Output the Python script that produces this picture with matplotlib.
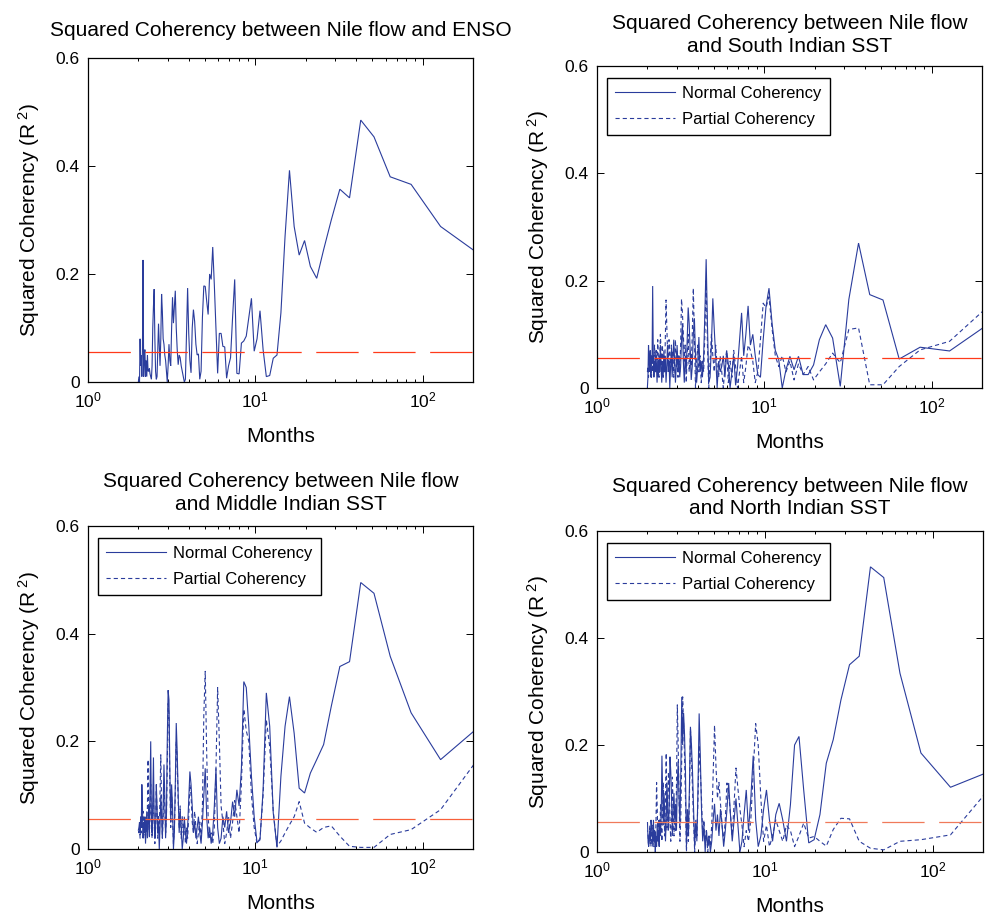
import numpy as np
import matplotlib
matplotlib.use("Agg")
import matplotlib.pyplot as plt
from matplotlib.ticker import LogLocator, NullFormatter

plt.rcParams['font.family'] = ['Liberation Sans', 'DejaVu Sans']
plt.rcParams['mathtext.fontset'] = 'custom'
plt.rcParams['mathtext.rm'] = 'Liberation Sans'
plt.rcParams['mathtext.it'] = 'Liberation Sans:italic'
plt.rcParams['lines.scale_dashes'] = False

# Frequency index k -> period 256/k months (k = 1..128)
harmonic = np.arange(1, 129)
months = 256.0 / harmonic

threshold = 0.0556

enso_normal = [
    0.221, 0.288, 0.366, 0.380, 0.454, 0.485, 0.341, 0.357, 0.300, 0.245,
    0.192, 0.214, 0.262, 0.235, 0.288, 0.392, 0.270, 0.128, 0.050, 0.044,
    0.012, 0.010, 0.060, 0.132, 0.080, 0.057, 0.155, 0.120, 0.085, 0.076,
    0.072, 0.015, 0.016, 0.190, 0.120, 0.045, 0.030, 0.007, 0.065, 0.066,
    0.090, 0.090, 0.016, 0.100, 0.180, 0.250, 0.190, 0.200, 0.125, 0.150,
    0.177, 0.178, 0.120, 0.020, 0.005, 0.052, 0.050, 0.070, 0.112, 0.134,
    0.100, 0.017, 0.040, 0.090, 0.174, 0.090, 0.005, 0.000, 0.010, 0.020,
    0.030, 0.045, 0.050, 0.032, 0.060, 0.100, 0.169, 0.140, 0.109, 0.157,
    0.100, 0.030, 0.040, 0.070, 0.030, 0.000, 0.020, 0.040, 0.050, 0.070,
    0.080, 0.130, 0.163, 0.080, 0.030, 0.070, 0.108, 0.060, 0.010, 0.005,
    0.020, 0.080, 0.172, 0.140, 0.100, 0.030, 0.005, 0.010, 0.015, 0.025,
    0.020, 0.020, 0.050, 0.010, 0.040, 0.010, 0.060, 0.050, 0.010, 0.226,
    0.060, 0.010, 0.050, 0.030, 0.080, 0.000, 0.010, 0.000]

south_normal = [
    0.134, 0.069, 0.076, 0.054, 0.164, 0.174, 0.270, 0.165, 0.003, 0.093,
    0.118, 0.090, 0.043, 0.025, 0.025, 0.059, 0.034, 0.059, 0.034, 0.000,
    0.053, 0.070, 0.120, 0.186, 0.152, 0.090, 0.020, 0.025, 0.060, 0.100,
    0.080, 0.153, 0.100, 0.060, 0.140, 0.090, 0.040, 0.005, 0.060, 0.030,
    0.000, 0.045, 0.070, 0.020, 0.060, 0.040, 0.030, 0.050, 0.000, 0.060,
    0.110, 0.167, 0.080, 0.020, 0.010, 0.120, 0.240, 0.140, 0.060, 0.020,
    0.050, 0.030, 0.095, 0.040, 0.010, 0.060, 0.130, 0.100, 0.040, 0.015,
    0.070, 0.120, 0.150, 0.090, 0.030, 0.060, 0.010, 0.050, 0.120, 0.090,
    0.040, 0.020, 0.060, 0.030, 0.080, 0.040, 0.010, 0.050, 0.090, 0.060,
    0.020, 0.070, 0.040, 0.000, 0.050, 0.030, 0.080, 0.040, 0.010, 0.060,
    0.030, 0.070, 0.020, 0.050, 0.010, 0.040, 0.080, 0.030, 0.060, 0.020,
    0.050, 0.010, 0.040, 0.070, 0.030, 0.050, 0.020, 0.060, 0.190, 0.050,
    0.060, 0.020, 0.070, 0.030, 0.050, 0.080, 0.020, 0.000]

south_partial = [
    0.172, 0.087, 0.071, 0.040, 0.006, 0.006, 0.112, 0.109, 0.047, 0.065,
    0.045, 0.030, 0.015, 0.040, 0.025, 0.045, 0.015, 0.050, 0.030, 0.060,
    0.040, 0.060, 0.110, 0.170, 0.150, 0.158, 0.090, 0.030, 0.010, 0.050,
    0.070, 0.080, 0.040, 0.010, 0.060, 0.030, 0.000, 0.040, 0.070, 0.020,
    0.050, 0.010, 0.070, 0.040, 0.000, 0.030, 0.060, 0.020, 0.040, 0.080,
    0.030, 0.060, 0.100, 0.050, 0.000, 0.080, 0.200, 0.100, 0.030, 0.050,
    0.010, 0.060, 0.030, 0.080, 0.050, 0.000, 0.090, 0.186, 0.100, 0.040,
    0.070, 0.030, 0.100, 0.060, 0.010, 0.080, 0.050, 0.100, 0.140, 0.166,
    0.080, 0.030, 0.060, 0.020, 0.070, 0.040, 0.090, 0.050, 0.020, 0.070,
    0.040, 0.080, 0.030, 0.060, 0.090, 0.040, 0.070, 0.120, 0.164, 0.090,
    0.030, 0.060, 0.020, 0.080, 0.040, 0.070, 0.100, 0.050, 0.020, 0.060,
    0.090, 0.040, 0.070, 0.030, 0.050, 0.080, 0.040, 0.060, 0.030, 0.050,
    0.020, 0.060, 0.040, 0.030, 0.050, 0.020, 0.040, 0.030]

middle_normal = [
    0.246, 0.166, 0.253, 0.358, 0.475, 0.495, 0.348, 0.339, 0.265, 0.194,
    0.166, 0.141, 0.104, 0.113, 0.215, 0.283, 0.228, 0.135, 0.003, 0.067,
    0.228, 0.290, 0.110, 0.017, 0.012, 0.060, 0.135, 0.228, 0.300, 0.311,
    0.150, 0.080, 0.110, 0.060, 0.088, 0.050, 0.030, 0.070, 0.040, 0.060,
    0.020, 0.010, 0.040, 0.150, 0.080, 0.030, 0.010, 0.040, 0.020, 0.060,
    0.150, 0.100, 0.050, 0.010, 0.030, 0.060, 0.040, 0.020, 0.050, 0.030,
    0.080, 0.120, 0.144, 0.090, 0.040, 0.010, 0.030, 0.060, 0.020, 0.000,
    0.040, 0.070, 0.030, 0.100, 0.180, 0.234, 0.120, 0.030, 0.000, 0.080,
    0.120, 0.050, 0.150, 0.277, 0.295, 0.200, 0.060, 0.020, 0.100, 0.157,
    0.080, 0.020, 0.060, 0.100, 0.040, 0.000, 0.050, 0.030, 0.080, 0.120,
    0.040, 0.020, 0.060, 0.170, 0.090, 0.030, 0.060, 0.200, 0.120, 0.030,
    0.080, 0.050, 0.020, 0.070, 0.040, 0.010, 0.060, 0.030, 0.050, 0.020,
    0.080, 0.120, 0.040, 0.060, 0.030, 0.050, 0.040, 0.035]

middle_partial = [
    0.200, 0.073, 0.036, 0.027, 0.003, 0.003, 0.005, 0.024, 0.043, 0.040,
    0.031, 0.039, 0.048, 0.088, 0.060, 0.045, 0.030, 0.015, 0.005, 0.070,
    0.190, 0.240, 0.100, 0.020, 0.010, 0.040, 0.100, 0.200, 0.220, 0.260,
    0.120, 0.030, 0.060, 0.090, 0.050, 0.020, 0.060, 0.030, 0.010, 0.050,
    0.080, 0.200, 0.300, 0.150, 0.040, 0.010, 0.030, 0.020, 0.060, 0.180,
    0.330, 0.250, 0.080, 0.020, 0.050, 0.030, 0.010, 0.040, 0.070, 0.030,
    0.050, 0.100, 0.120, 0.060, 0.020, 0.040, 0.010, 0.050, 0.030, 0.060,
    0.020, 0.080, 0.040, 0.090, 0.160, 0.200, 0.100, 0.040, 0.010, 0.060,
    0.100, 0.040, 0.120, 0.250, 0.270, 0.150, 0.060, 0.030, 0.080, 0.120,
    0.060, 0.020, 0.080, 0.175, 0.100, 0.030, 0.060, 0.020, 0.070, 0.110,
    0.040, 0.010, 0.050, 0.100, 0.060, 0.020, 0.050, 0.120, 0.070, 0.020,
    0.060, 0.166, 0.080, 0.030, 0.050, 0.020, 0.060, 0.040, 0.020, 0.070,
    0.040, 0.060, 0.030, 0.050, 0.020, 0.040, 0.030, 0.040]

north_normal = [
    0.159, 0.121, 0.185, 0.334, 0.513, 0.533, 0.366, 0.350, 0.284, 0.210,
    0.166, 0.070, 0.023, 0.017, 0.116, 0.216, 0.200, 0.088, 0.020, 0.060,
    0.091, 0.070, 0.020, 0.060, 0.116, 0.080, 0.030, 0.010, 0.060, 0.180,
    0.100, 0.040, 0.116, 0.070, 0.020, 0.000, 0.050, 0.100, 0.060, 0.020,
    0.070, 0.129, 0.080, 0.040, 0.010, 0.050, 0.080, 0.030, 0.070, 0.040,
    0.090, 0.060, 0.020, 0.000, 0.030, 0.010, 0.040, 0.000, 0.050, 0.020,
    0.080, 0.180, 0.259, 0.120, 0.020, 0.060, 0.010, 0.080, 0.150, 0.200,
    0.234, 0.120, 0.030, 0.080, 0.010, 0.150, 0.220, 0.260, 0.200, 0.290,
    0.150, 0.050, 0.100, 0.170, 0.130, 0.040, 0.090, 0.060, 0.110, 0.080,
    0.030, 0.100, 0.150, 0.178, 0.090, 0.040, 0.080, 0.130, 0.060, 0.020,
    0.070, 0.110, 0.050, 0.120, 0.180, 0.070, 0.030, 0.060, 0.010, 0.040,
    0.020, 0.050, 0.010, 0.030, 0.000, 0.040, 0.020, 0.060, 0.010, 0.030,
    0.050, 0.060, 0.020, 0.040, 0.030, 0.010, 0.020, 0.055]

north_partial = [
    0.144, 0.032, 0.023, 0.020, 0.004, 0.007, 0.020, 0.062, 0.063, 0.042,
    0.011, 0.020, 0.029, 0.026, 0.054, 0.030, 0.010, 0.040, 0.050, 0.020,
    0.040, 0.060, 0.030, 0.010, 0.050, 0.020, 0.100, 0.200, 0.240, 0.150,
    0.060, 0.020, 0.040, 0.010, 0.050, 0.080, 0.120, 0.157, 0.090, 0.030,
    0.070, 0.110, 0.129, 0.060, 0.020, 0.050, 0.090, 0.130, 0.100, 0.160,
    0.237, 0.140, 0.050, 0.010, 0.030, 0.000, 0.040, 0.020, 0.060, 0.030,
    0.100, 0.150, 0.200, 0.100, 0.030, 0.050, 0.000, 0.060, 0.120, 0.180,
    0.231, 0.100, 0.020, 0.060, 0.000, 0.100, 0.180, 0.240, 0.290, 0.180,
    0.070, 0.020, 0.100, 0.200, 0.275, 0.120, 0.040, 0.080, 0.030, 0.090,
    0.140, 0.070, 0.020, 0.060, 0.120, 0.150, 0.080, 0.040, 0.185, 0.100,
    0.030, 0.070, 0.130, 0.080, 0.020, 0.050, 0.090, 0.040, 0.010, 0.060,
    0.030, 0.080, 0.130, 0.050, 0.020, 0.040, 0.010, 0.030, 0.050, 0.020,
    0.040, 0.010, 0.030, 0.050, 0.020, 0.010, 0.030, 0.040]

titles = [
    "Squared Coherency between Nile flow and ENSO",
    "Squared Coherency between Nile flow\nand South Indian SST",
    "Squared Coherency between Nile flow\nand Middle Indian SST",
    "Squared Coherency between Nile flow\nand North Indian SST",
]
panels = [
    (enso_normal, None),
    (south_normal, south_partial),
    (middle_normal, middle_partial),
    (north_normal, north_partial),
]
legend_labels = ["Normal Coherency", "Partial Coherency"]
y_ticks = [0, 0.2, 0.4, 0.6]
y_ticklabels = ["0", "0.2", "0.4", "0.6"]

W, H = 995, 916
fig = plt.figure(figsize=(W / 100, H / 100), dpi=100)

# axes boxes in pixels: left, top, right, bottom
boxes = [(88, 58, 473, 382), (597, 66, 982, 388),
         (88, 526, 473, 849), (597, 531, 983, 852)]
title_pads = [16, 10, 11.5, 12]
red_colors = ['#ff3a1a', '#ff3a1a', '#f8603a', '#f07a5a']
blue = '#2a3c9c'

for i, (box, title, (normal, partial)) in enumerate(zip(boxes, titles, panels)):
    l, t, r, b = box
    ax = fig.add_axes([l / W, 1 - b / H, (r - l) / W, (b - t) / H])
    ax.set_xscale('log')
    ax.plot(months, normal, color=blue, lw=0.8, solid_joinstyle='miter')
    if partial is not None:
        ax.plot(months, partial, color=blue, lw=0.8, linestyle=(0, (3.0, 2.2)))
    ax.axhline(threshold, color=red_colors[i], lw=0.9, linestyle=(0, (30.5, 10.5)))
    ax.set_xlim(1, 200)
    ax.set_ylim(0, 0.6)
    ax.set_yticks(y_ticks)
    ax.set_yticklabels(y_ticklabels)
    ax.xaxis.set_major_locator(LogLocator(base=10, numticks=5))
    ax.xaxis.set_minor_locator(LogLocator(base=10, subs=np.arange(2, 10), numticks=20))
    ax.xaxis.set_minor_formatter(NullFormatter())
    ax.tick_params(which='both', direction='in', top=True, right=True,
                   labelsize=12.5, width=0.7)
    ax.tick_params(which='major', length=5, pad=6)
    ax.tick_params(which='minor', length=2.5)
    for s in ax.spines.values():
        s.set_linewidth(0.9)
    ax.set_xlabel("Months", fontsize=15, labelpad=12)
    ax.set_ylabel("Squared Coherency (R$^{\\ 2}$)", fontsize=15, labelpad=10)
    ax.set_title(title, fontsize=15, pad=title_pads[i], linespacing=1.25)
    if partial is not None:
        leg = ax.legend(legend_labels, loc='upper left', bbox_to_anchor=(0.026, 0.963),
                        borderaxespad=0, fontsize=12, handlelength=3.6,
                        handletextpad=0.4, labelspacing=0.62, fancybox=False,
                        framealpha=1, edgecolor='black', borderpad=0.5)
        leg.get_frame().set_linewidth(1.0)

fig.savefig("out.png", dpi=100)
